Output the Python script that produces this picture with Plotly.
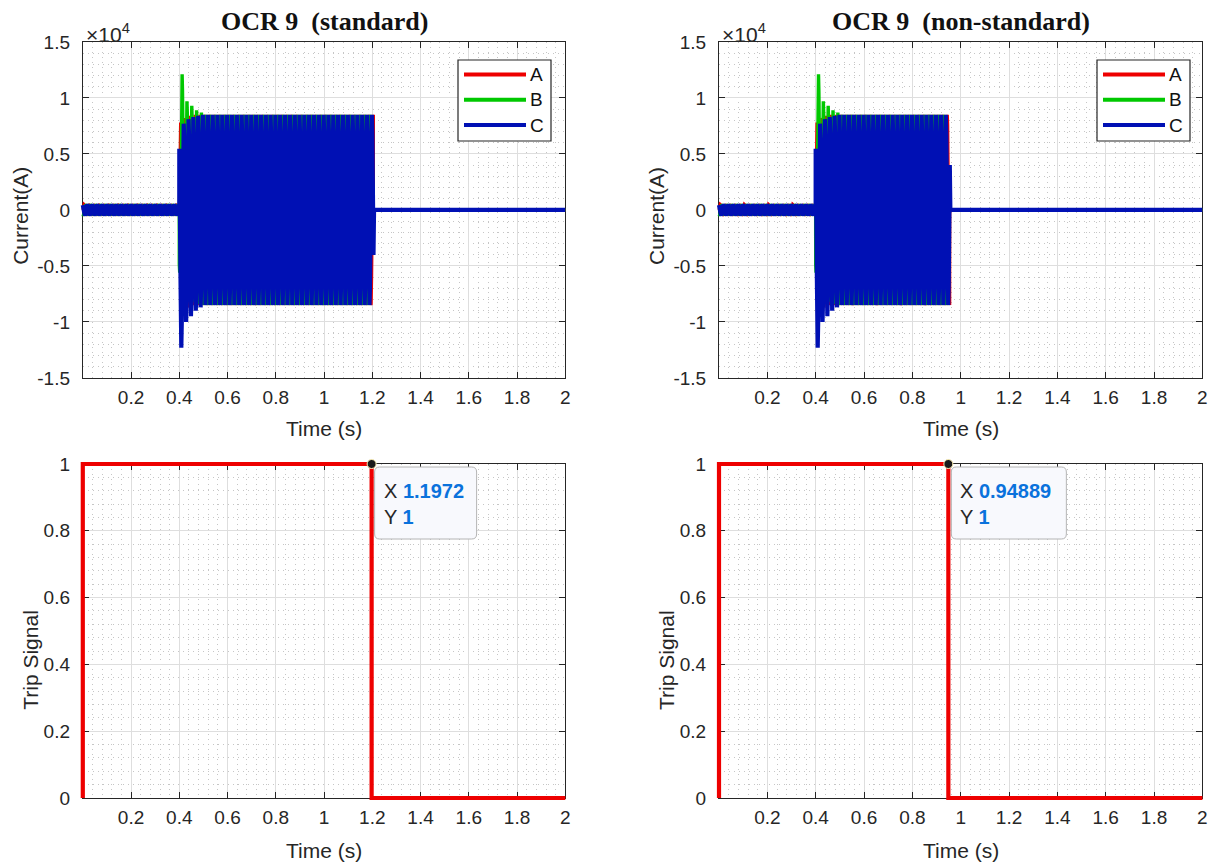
import numpy as np
import plotly.graph_objects as go

# ---------------------------------------------------------------- data
FREQ = 50.0                 # system frequency (Hz)
T_START, T_STOP = 0.0, 2.0  # simulated time window (s)
T_FAULT = 0.4               # fault inception (s)
PRE_FAULT_PEAK = 500.0      # load current peak before the fault (A)
FAULT_PEAK = 8500.0         # steady fault current peak (A)

PHASES = ["A", "B", "C"]
PHASE_ANGLE_DEG = {"A": 0.0, "B": -120.0, "C": 120.0}

# first lobe peaks after inception (A); later lobes settle at FAULT_PEAK
POS_PEAKS = {
    "A": [7800, 8200, 8400],
    "B": [12100, 9700, 9300, 8900, 8700],
    "C": [6300, 7700, 8100, 8300, 8400],
}
NEG_PEAKS = {
    "A": [-9000, -8700],
    "B": [-5600, -7400, -7900, -8200, -8400],
    "C": [-12300, -10000, -9500, -9000, -8700],
}

# breaker pole opening instants per phase (s)
CLEAR_TIME_STD = {"A": 1.2050, "B": 1.1967, "C": 1.2050}
CLEAR_TIME_NONSTD = {"A": 0.9550, "B": 0.9467, "C": 0.9550}

# relay trip instants (s)
TRIP_TIME_STD = 1.1972
TRIP_TIME_NONSTD = 0.94889
TRIP_LEVELS = [0, 1, 1, 0, 0]

X_TICKS = [0.2, 0.4, 0.6, 0.8, 1.0, 1.2, 1.4, 1.6, 1.8, 2.0]
X_TICK_TEXT = ["0.2", "0.4", "0.6", "0.8", "1", "1.2", "1.4", "1.6", "1.8", "2"]
I_TICKS = [-15000, -10000, -5000, 0, 5000, 10000, 15000]
I_TICK_TEXT = ["-1.5", "-1", "-0.5", "0", "0.5", "1", "1.5"]
TRIP_TICKS = [0, 0.2, 0.4, 0.6, 0.8, 1.0]
TRIP_TICK_TEXT = ["0", "0.2", "0.4", "0.6", "0.8", "1"]

COLORS = {"A": "#ee0000", "B": "#00c800", "C": "#0010b4"}
LINE_WIDTH = {"A": 3.0, "B": 3.4, "C": 4.2}
TRIP_COLOR = "#ee0000"
TIP_BLUE = "#0a72dc"
INK = "#262626"

# ---------------------------------------------------------------- waveforms
t = np.linspace(T_START, T_STOP, 20001)


def lobe_lookup(lobe, first_lobe, peaks):
    table = np.abs(np.array(list(peaks) + [FAULT_PEAK], dtype=float))
    idx = np.clip((lobe - first_lobe) // 2, 0, len(table) - 1)
    return table[idx]


def phase_current(name, t_clear):
    phi = np.deg2rad(PHASE_ANGLE_DEG[name])
    psi = 2 * np.pi * FREQ * (t - T_FAULT) + phi
    s = np.sin(psi)
    lobe = np.floor(psi / np.pi).astype(int)
    lobe0 = int(np.floor(phi / np.pi))
    first_pos = lobe0 if lobe0 % 2 == 0 else lobe0 + 1
    first_neg = lobe0 if lobe0 % 2 != 0 else lobe0 + 1
    amp = np.where(s >= 0,
                   lobe_lookup(lobe, first_pos, POS_PEAKS[name]),
                   lobe_lookup(lobe, first_neg, NEG_PEAKS[name]))
    amp = np.where(t < T_FAULT, PRE_FAULT_PEAK, amp)
    i = amp * s
    i[t >= t_clear - 1e-9] = 0.0
    return i


# ---------------------------------------------------------------- layout geometry (px)
W, H = 1220, 864
X_PX = [(82.8, 565.3), (719.0, 1202.4)]
Y_PX_TOP = (41.9, 377.9)
Y_PX_BOT = (464.0, 798.0)
X_RANGE = [0, 2]
I_RANGE = [-15000, 15000]
TRIP_RANGE = [0, 1]
PAD = 6  # px of extra room so thick traces are not cut at the frame


def xdom(px):
    return [px[0] / W, px[1] / W]


def ydom(px):
    return [1 - px[1] / H, 1 - px[0] / H]


def padded(px, rng):
    k = (rng[1] - rng[0]) / (px[1] - px[0])
    return (px[0] - PAD, px[1] + PAD), [rng[0] - PAD * k, rng[1] + PAD * k]


base_font = "Liberation Sans, Arial, sans-serif"


def frame_axis(domain, rng, tickvals, ticktext, minor_dtick, anchor, standoff):
    return dict(
        domain=domain, range=rng, anchor=anchor, automargin=False,
        tickvals=tickvals, ticktext=ticktext, fixedrange=True,
        showline=True, linecolor=INK, linewidth=1, mirror="allticks",
        ticks="inside", ticklen=6, tickcolor=INK, tickwidth=1,
        showgrid=True, gridcolor="#dedede", gridwidth=1, zeroline=False,
        tickfont=dict(family=base_font, size=19, color=INK),
        ticklabelstandoff=standoff,
        minor=dict(dtick=minor_dtick, tick0=0, showgrid=True,
                   gridcolor="#c6c6c6", griddash="1px,4px", ticks=""),
    )


def trace_axis(domain, rng, anchor):
    return dict(domain=domain, range=rng, anchor=anchor, visible=False,
                automargin=False, fixedrange=True, showgrid=False, zeroline=False)


fig = go.Figure()
layout = dict(
    width=W, height=H, margin=dict(l=0, r=0, t=0, b=0, pad=0),
    paper_bgcolor="white", plot_bgcolor="rgba(0,0,0,0)", showlegend=False,
)

# frame axes (grid, ticks, labels): panels 1..4; trace axes: panels 5..8
panels = [
    (X_PX[0], Y_PX_TOP, I_RANGE, I_TICKS, I_TICK_TEXT, 1000),
    (X_PX[1], Y_PX_TOP, I_RANGE, I_TICKS, I_TICK_TEXT, 1000),
    (X_PX[0], Y_PX_BOT, TRIP_RANGE, TRIP_TICKS, TRIP_TICK_TEXT, 0.04),
    (X_PX[1], Y_PX_BOT, TRIP_RANGE, TRIP_TICKS, TRIP_TICK_TEXT, 0.04),
]
for n, (xpx, ypx, yr, yt, ytt, ymin) in enumerate(panels, start=1):
    sx = "" if n == 1 else str(n)
    layout["xaxis" + sx] = frame_axis(xdom(xpx), X_RANGE, X_TICKS, X_TICK_TEXT, 0.04, "y" + sx, 2)
    layout["yaxis" + sx] = frame_axis(ydom(ypx), yr, yt, ytt, ymin, "x" + sx, 8)
    pxp, xr = padded(xpx, X_RANGE)
    pyp, yrp = padded(ypx, yr)
    m = str(n + 4)
    layout["xaxis" + m] = trace_axis(xdom(pxp), xr, "y" + m)
    layout["yaxis" + m] = trace_axis(ydom(pyp), yrp, "x" + m)
    # keep the frame subplot present
    fig.add_trace(go.Scatter(x=[], y=[], xaxis="x" + sx, yaxis="y" + sx,
                             showlegend=False, hoverinfo="skip"))

for m, clear in [("5", CLEAR_TIME_STD), ("6", CLEAR_TIME_NONSTD)]:
    for name in PHASES:
        fig.add_trace(go.Scatter(
            x=t, y=phase_current(name, clear[name]), mode="lines",
            line=dict(color=COLORS[name], width=LINE_WIDTH[name]),
            name=name, showlegend=False, hoverinfo="skip",
            xaxis="x" + m, yaxis="y" + m))

for m, t_trip in [("7", TRIP_TIME_STD), ("8", TRIP_TIME_NONSTD)]:
    trip_t = [T_START, T_START, t_trip, t_trip, T_STOP]
    fig.add_trace(go.Scatter(
        x=trip_t, y=TRIP_LEVELS, mode="lines",
        line=dict(color=TRIP_COLOR, width=4.2),
        showlegend=False, hoverinfo="skip", xaxis="x" + m, yaxis="y" + m))
    fig.add_trace(go.Scatter(
        x=[t_trip], y=[TRIP_LEVELS[2]], mode="markers", cliponaxis=False,
        marker=dict(color="#1a1a1a", size=9, line=dict(color="#fff2b8", width=1)),
        showlegend=False, hoverinfo="skip", xaxis="x" + m, yaxis="y" + m))

fig.update_layout(**layout)

annotations = []
shapes = []
label_font = dict(family=base_font, size=21, color=INK)

# panel titles, exponent labels and axis titles
for xpx, title in [(X_PX[0], "OCR 9  (standard)"), (X_PX[1], "OCR 9  (non-standard)")]:
    cx = (xpx[0] + xpx[1]) / 2 / W
    annotations.append(dict(
        xref="paper", yref="paper", x=cx, y=1 - 22 / H,
        text="<b>" + title + "</b>", showarrow=False, xanchor="center", yanchor="middle",
        font=dict(family="Liberation Serif, Times New Roman, serif", size=26, color="#111111")))
    annotations.append(dict(
        xref="paper", yref="paper", x=(xpx[0] + 1) / W, y=1 - 33 / H,
        text="\u00d710<sup>4</sup>", showarrow=False, xanchor="left", yanchor="middle",
        font=dict(family=base_font, size=21, color=INK)))
    for ty in (428, 850):
        annotations.append(dict(
            xref="paper", yref="paper", x=cx, y=1 - ty / H, text="Time (s)",
            showarrow=False, xanchor="center", yanchor="middle", font=label_font))
    for tx, ty, txt in [(xpx[0] - 63, 216, "Current(A)"), (xpx[0] - 53, 660, "Trip Signal")]:
        annotations.append(dict(
            xref="paper", yref="paper", x=tx / W, y=1 - ty / H, text=txt, textangle=-90,
            showarrow=False, xanchor="center", yanchor="middle", font=label_font))

# legend boxes in the upper panels
LEGEND_PX = [(458, 551), (1097, 1190)]
for (lx0, lx1) in LEGEND_PX:
    shapes.append(dict(type="rect", xref="paper", yref="paper", x0=lx0 / W, x1=lx1 / W,
                       y0=1 - 141 / H, y1=1 - 60 / H, line=dict(color=INK, width=1.2),
                       fillcolor="white", layer="above"))
    for k, name in enumerate(PHASES):
        yy = 1 - (74.5 + 25.3 * k) / H
        shapes.append(dict(type="line", xref="paper", yref="paper",
                           x0=(lx0 + 6) / W, x1=(lx0 + 68) / W, y0=yy, y1=yy,
                           line=dict(color=COLORS[name], width=4), layer="above"))
        annotations.append(dict(xref="paper", yref="paper", x=(lx0 + 70) / W, y=yy,
                                text=name, showarrow=False, xanchor="left", yanchor="middle",
                                font=dict(family=base_font, size=19, color="#111111")))

# data tips on the trip signals
for xa, ya, t_trip, label, width in [("x3", "y3", TRIP_TIME_STD, "1.1972", 102),
                                    ("x4", "y4", TRIP_TIME_NONSTD, "0.94889", 115)]:
    r = 5
    x0, x1, y0, y1 = 3, 3 + width, -3, -75
    path = (f"M{x0 + r},{y0} L{x1 - r},{y0} Q{x1},{y0} {x1},{y0 - r} "
            f"L{x1},{y1 + r} Q{x1},{y1} {x1 - r},{y1} L{x0 + r},{y1} "
            f"Q{x0},{y1} {x0},{y1 + r} L{x0},{y0 - r} Q{x0},{y0} {x0 + r},{y0} Z")
    shapes.append(dict(type="path", xref=xa, yref=ya, xsizemode="pixel", ysizemode="pixel",
                       xanchor=t_trip, yanchor=1, path=path,
                       fillcolor="#f8f9fd", line=dict(color="#b4b4b4", width=1), layer="above"))
    for row, (key, val) in enumerate([("X", label), ("Y", "1")]):
        annotations.append(dict(
            xref=xa, yref=ya, x=t_trip, y=1, xanchor="left", yanchor="middle",
            xshift=10, yshift=-27 - 26 * row, showarrow=False,
            text=f"{key} <span style='color:{TIP_BLUE}'><b>{val}</b></span>",
            font=dict(family=base_font, size=20, color=INK)))

fig.update_layout(annotations=annotations, shapes=shapes)
fig.write_html("out.html")
